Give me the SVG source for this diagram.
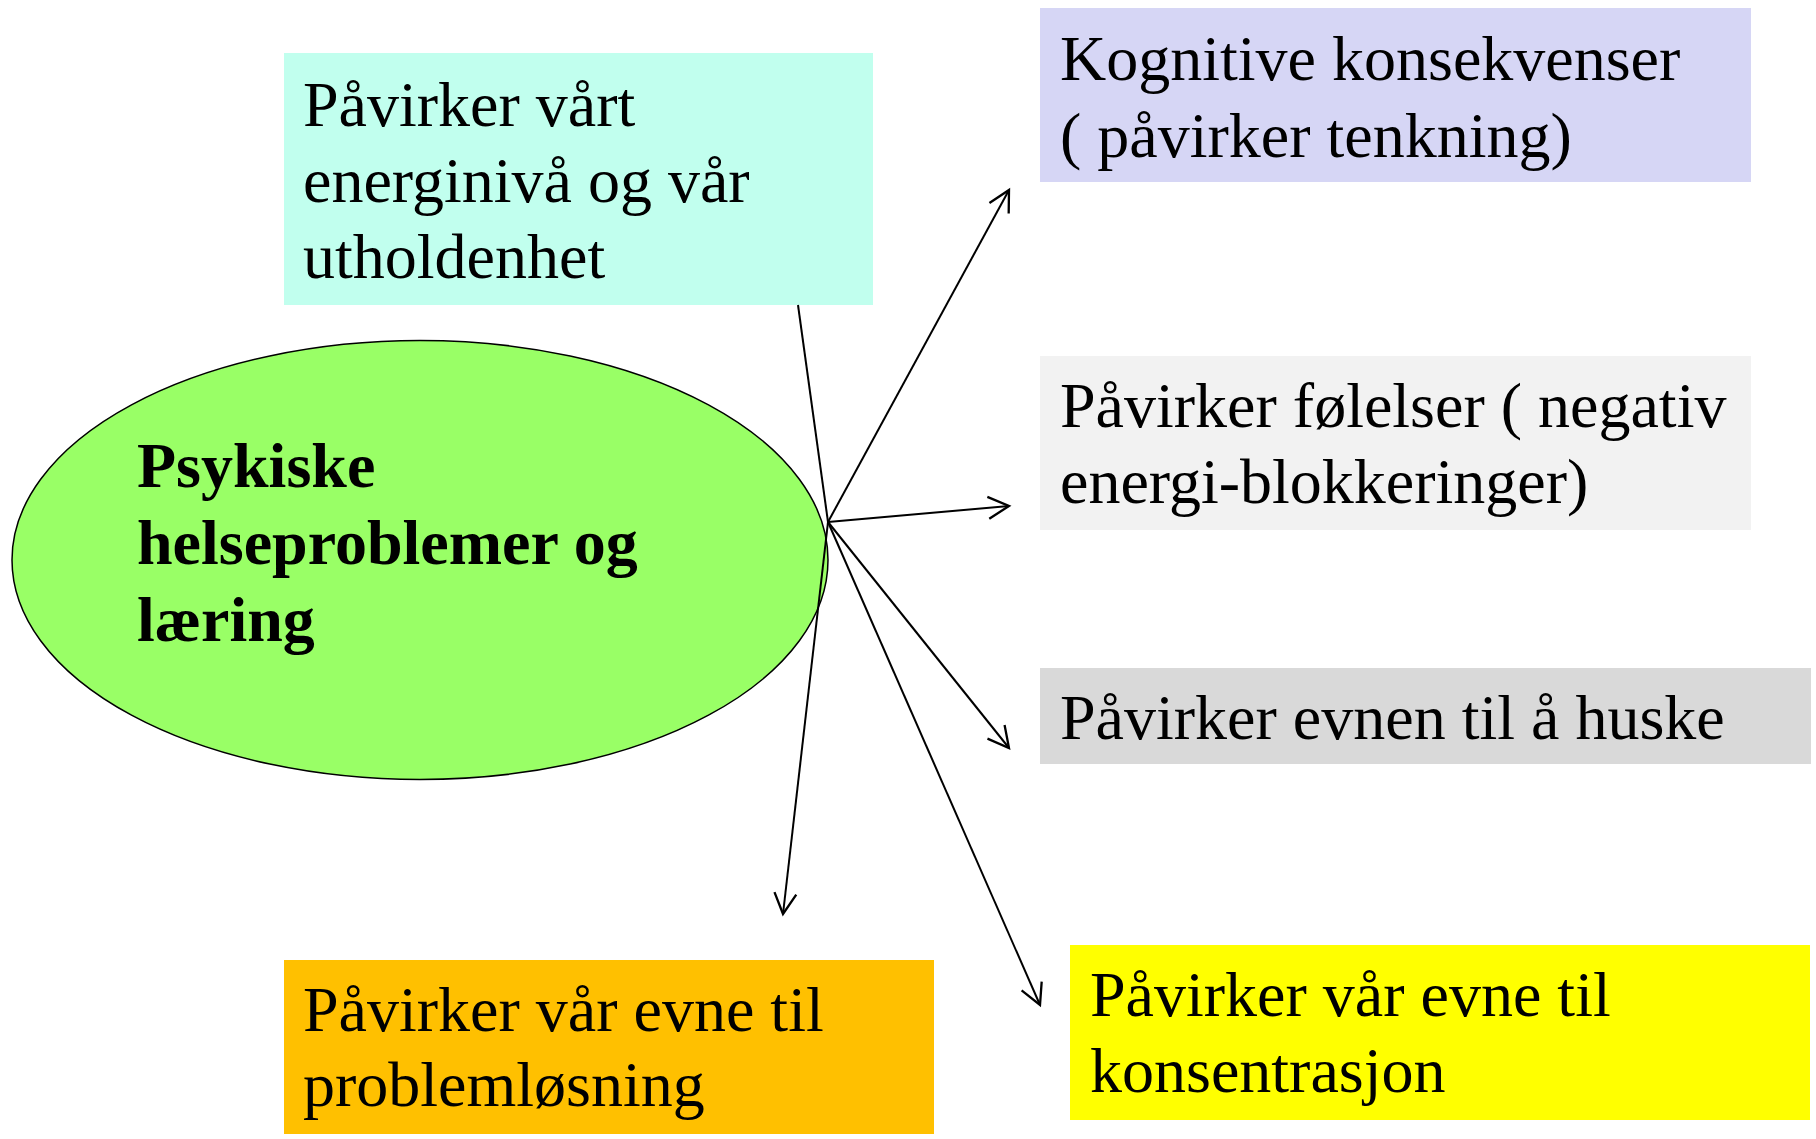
<svg xmlns="http://www.w3.org/2000/svg" width="1816" height="1139" viewBox="0 0 1816 1139">
<style>
.t{font-family:"Liberation Serif","Times New Roman",serif;font-size:64px;fill:#000}
.b{font-weight:bold}
.c{stroke:#000;stroke-width:2;fill:none}
</style>
<defs>
<marker id="arr" markerUnits="userSpaceOnUse" markerWidth="30" markerHeight="30" viewBox="-22 -12 26 24" refX="0" refY="0" orient="auto">
<path d="M-18,-9.5 L0,0 L-18,9.5" fill="none" stroke="#000" stroke-width="2"/>
</marker>
</defs>
<rect width="1816" height="1139" fill="#fff"/>
<g id="n_energi">
<rect x="284" y="53" width="589" height="252" fill="#C1FFEE"/>
<text class="t" x="303" y="125.5">Påvirker vårt</text>
<text class="t" x="303" y="202">energinivå og vår</text>
<text class="t" x="303" y="278">utholdenhet</text>
</g>
<g id="n_center">
<ellipse cx="420" cy="560" rx="408" ry="219.5" fill="#99FF66" stroke="#000" stroke-width="1.5"/>
<text class="t b" x="137" y="487">Psykiske</text>
<text class="t b" x="137" y="564">helseproblemer og</text>
<text class="t b" x="137" y="641">læring</text>
</g>
<g id="n_kognitive">
<rect x="1040" y="8" width="711" height="174" fill="#D6D6F5"/>
<text class="t" x="1060" y="80">Kognitive konsekvenser</text>
<text class="t" x="1060" y="157">( påvirker tenkning)</text>
</g>
<g id="n_folelser">
<rect x="1040" y="356" width="711" height="174" fill="#F2F2F2"/>
<text class="t" x="1060" y="427">Påvirker følelser ( negativ</text>
<text class="t" x="1060" y="503">energi-blokkeringer)</text>
</g>
<g id="n_huske">
<rect x="1040" y="668" width="771" height="96" fill="#D9D9D9"/>
<text class="t" x="1060" y="739">Påvirker evnen til å huske</text>
</g>
<g id="n_konsentrasjon">
<rect x="1070" y="945" width="740" height="175" fill="#FFFF00"/>
<text class="t" x="1090" y="1016">Påvirker vår evne til</text>
<text class="t" x="1090" y="1092">konsentrasjon</text>
</g>
<g id="n_problem">
<rect x="284" y="960" width="650" height="174" fill="#FFC000"/>
<text class="t" x="303" y="1031">Påvirker vår evne til</text>
<text class="t" x="303" y="1106">problemløsning</text>
</g>
<g id="connectors">
<line class="c" x1="798" y1="305" x2="828" y2="522"/>
<line class="c" x1="828" y1="522" x2="1009" y2="190" marker-end="url(#arr)"/>
<line class="c" x1="828" y1="522" x2="1009" y2="506" marker-end="url(#arr)"/>
<line class="c" x1="828" y1="522" x2="1009" y2="748" marker-end="url(#arr)"/>
<line class="c" x1="828" y1="522" x2="1040" y2="1005" marker-end="url(#arr)"/>
<line class="c" x1="828" y1="522" x2="783" y2="914" marker-end="url(#arr)"/>
</g>
</svg>
